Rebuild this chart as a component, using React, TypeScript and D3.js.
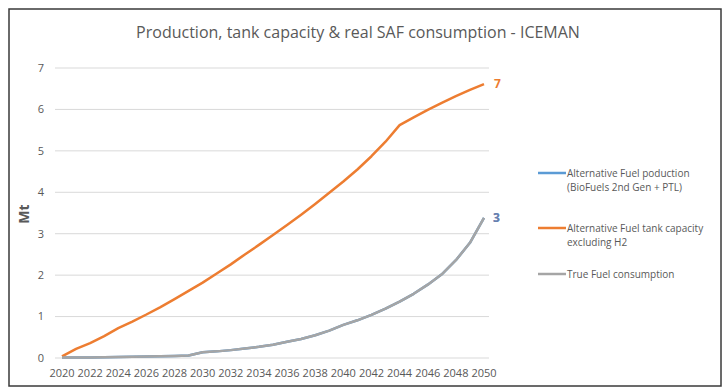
import React from "react";
import * as d3 from "d3";

const years: number[] = d3.range(2020, 2051);
const productionValues: number[] = [0.01, 0.01, 0.015, 0.02, 0.025, 0.03, 0.035, 0.04, 0.05, 0.06, 0.14, 0.16, 0.19, 0.23, 0.27, 0.32, 0.39, 0.46, 0.55, 0.66, 0.8, 0.91, 1.04, 1.19, 1.36, 1.55, 1.77, 2.02, 2.36, 2.78, 3.38];
const tankCapacity: number[] = [0.04, 0.22, 0.36, 0.53, 0.72, 0.88, 1.05, 1.23, 1.42, 1.62, 1.82, 2.04, 2.26, 2.5, 2.73, 2.97, 3.21, 3.46, 3.72, 3.99, 4.26, 4.55, 4.87, 5.22, 5.62, 5.81, 5.99, 6.16, 6.32, 6.47, 6.61];
const trueConsumption: number[] = [0.01, 0.01, 0.015, 0.02, 0.025, 0.03, 0.035, 0.04, 0.05, 0.06, 0.14, 0.16, 0.19, 0.23, 0.27, 0.32, 0.39, 0.46, 0.55, 0.66, 0.8, 0.91, 1.04, 1.19, 1.36, 1.55, 1.77, 2.02, 2.36, 2.78, 3.38];
const yTicks: number[] = [0, 1, 2, 3, 4, 5, 6, 7];
const xTickYears: number[] = d3.range(2020, 2051, 2);
const legendLabels: string[][] = [
  ["Alternative Fuel poduction", "(BioFuels 2nd Gen + PTL)"],
  ["Alternative Fuel tank capacity", "excluding H2"],
  ["True Fuel consumption"],
];
const titleText = "Production, tank capacity & real SAF consumption - ICEMAN";

const FONT = "'Open Sans', sans-serif";
const TXT = "#595959";

export default function App() {
  const W = 726, H = 387;
  const x = d3.scalePoint<number>().domain(years).range([62, 484]);
  const y = d3.scaleLinear().domain([0, 7]).range([358, 68]);
  const line = d3.line<number>().x((_, i) => x(years[i]) as number).y((d) => y(d));

  const series = [
    { values: productionValues, color: "#5B9BD5" },
    { values: tankCapacity, color: "#ED7D31" },
    { values: trueConsumption, color: "#A5A5A5" },
  ];
  const legendY = [173, 228, 274];
  const lastIdx = years.length - 1;

  return (
    <svg width={W} height={H} style={{ position: "absolute", left: 0, top: 0, background: "#fff" }}>
      <rect x={0} y={0} width={W} height={H} fill="#fff" />
      <rect x={9} y={9} width={712} height={377} fill="none" stroke="#3a3a3a" strokeWidth={1.5} />
      <text x={358} y={38} textAnchor="middle" fontFamily={FONT} fontSize={16} fill={TXT}>{titleText}</text>
      {yTicks.map((t) => (
        <g key={t}>
          <line x1={55} x2={489} y1={y(t)} y2={y(t)} stroke="#d9d9d9" strokeWidth={1} />
          <text x={44} y={y(t)} dy="0.35em" textAnchor="end" fontFamily={FONT} fontSize={11} fill={TXT}>{t}</text>
        </g>
      ))}
      {xTickYears.map((yr) => (
        <text key={yr} x={x(yr)} y={377} textAnchor="middle" fontFamily={FONT} fontSize={11} fill={TXT}>{yr}</text>
      ))}
      <text transform={`translate(29,214) rotate(-90)`} textAnchor="middle" fontFamily={FONT} fontSize={14} fontWeight="bold" fill={TXT}>Mt</text>
      {series.map((s, i) => (
        <path key={i} d={line(s.values) || ""} fill="none" stroke={s.color} strokeWidth={2.5} strokeLinejoin="round" />
      ))}
      <text x={494} y={y(tankCapacity[lastIdx])} dy="0.35em" fontFamily={FONT} fontSize={12} fontWeight="bold" fill="#ED7D31">{Math.round(tankCapacity[lastIdx])}</text>
      <text x={493} y={y(productionValues[lastIdx])} dy="0.35em" fontFamily={FONT} fontSize={12} fontWeight="bold" fill="#4472C4">{Math.round(productionValues[lastIdx])}</text>
      <text x={493} y={y(trueConsumption[lastIdx])} dy="0.35em" fontFamily={FONT} fontSize={12} fontWeight="bold" fill="#7f8aa0" opacity={0.6}>{Math.round(trueConsumption[lastIdx])}</text>
      {series.map((s, i) => (
        <g key={i}>
          <line x1={538} x2={566} y1={legendY[i]} y2={legendY[i]} stroke={s.color} strokeWidth={2.5} />
          {legendLabels[i].map((l, j) => (
            <text key={j} x={567} y={legendY[i] + j * 14} dy="0.35em" fontFamily={FONT} fontSize={10} fill={TXT}>{l}</text>
          ))}
        </g>
      ))}
    </svg>
  );
}
